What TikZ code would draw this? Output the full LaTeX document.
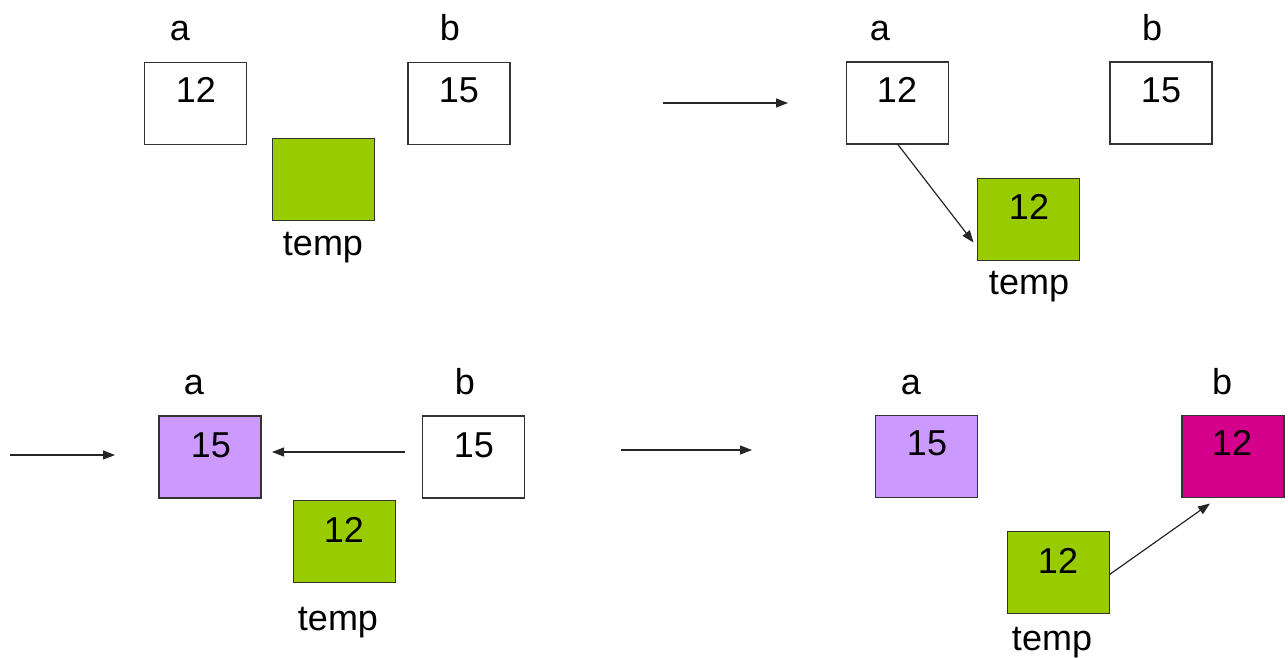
\documentclass[tikz,border=0pt]{standalone}
\usepackage{fontspec}
\setmainfont{Liberation Sans}
\usetikzlibrary{arrows.meta}
\definecolor{tgreen}{HTML}{99CC00}
\definecolor{tpurple}{HTML}{CC99FF}
\definecolor{tmag}{HTML}{D4008C}
\begin{document}
\begin{tikzpicture}[x=1pt,y=-1pt,
  cell/.style={draw=black!80,line width=1.3pt,minimum width=102pt,minimum height=82pt,inner sep=0pt,outer sep=0pt},
  num/.style={font=\fontsize{36}{40}\selectfont,inner sep=0pt,anchor=center},
  lbl/.style={font=\fontsize{36}{40}\selectfont,inner sep=0pt,anchor=center},
  conn/.style={draw=black!85,line width=1.2pt,-{Triangle[length=12pt,width=9pt]}}]
\useasboundingbox (0,0) rectangle (1288,658);
% Panel 1
\node[cell] (a1) at (195.5,103.5) {};
\node[num] (a1n) at (196,90) {12};
\node[lbl] (a1l) at (180,31) {a};
\node[cell] (b1) at (459,103.5) {};
\node[num] (b1n) at (459,90) {15};
\node[lbl] (b1l) at (450,28) {b};
\node[cell,fill=tgreen] (t1) at (323.5,179.5) {};
\node[lbl] (t1l) at (323,248) {temp};
% transition 1
\coordinate (s1) at (663,103);
\coordinate (e1) at (788,103);
\draw[conn] (s1) -- (e1);
% Panel 2
\node[cell] (a2) at (897.5,103) {};
\node[num] (a2n) at (897,90) {12};
\node[lbl] (a2l) at (880,31) {a};
\node[cell] (b2) at (1161,103) {};
\node[num] (b2n) at (1161,90) {15};
\node[lbl] (b2l) at (1152,28) {b};
\node[cell,fill=tgreen] (t2) at (1028.5,219.5) {};
\node[num] (t2n) at (1029,207) {12};
\node[lbl] (t2l) at (1029,287) {temp};
\draw[conn] (a2.south) -- ([xshift=-4pt,yshift=18pt]t2.south west);
% transition 2
\coordinate (s2) at (10,455);
\coordinate (e2) at (115,455);
\draw[conn] (s2) -- (e2);
% Panel 3
\node[cell,fill=tpurple] (a3) at (210,457) {};
\node[num] (a3n) at (211,445) {15};
\node[lbl] (a3l) at (194,385) {a};
\node[cell] (b3) at (473.5,457) {};
\node[num] (b3n) at (474,445) {15};
\node[lbl] (b3l) at (465,382) {b};
\node[cell,fill=tgreen] (t3) at (344.5,541.5) {};
\node[num] (t3n) at (344,530) {12};
\node[lbl] (t3l) at (338,623) {temp};
\draw[conn] ([xshift=-18pt,yshift=5pt]b3.west) -- ([xshift=11pt,yshift=5pt]a3.east);
% transition 3
\coordinate (s3) at (621,450);
\coordinate (e3) at (752,450);
\draw[conn] (s3) -- (e3);
% Panel 4
\node[cell,fill=tpurple] (a4) at (926.5,456.5) {};
\node[num] (a4n) at (927,443) {15};
\node[lbl] (a4l) at (911,385) {a};
\node[cell,fill=tmag] (b4) at (1233,456.5) {};
\node[num] (b4n) at (1232,443) {12};
\node[lbl] (b4l) at (1222,382) {b};
\node[cell,fill=tgreen] (t4) at (1058.5,572.5) {};
\node[num] (t4n) at (1058,561) {12};
\node[lbl] (t4l) at (1052,643) {temp};
\draw[conn] ([yshift=-2pt]t4.east) -- ([xshift=-23pt,yshift=-6pt]b4.south);
\end{tikzpicture}
\end{document}
